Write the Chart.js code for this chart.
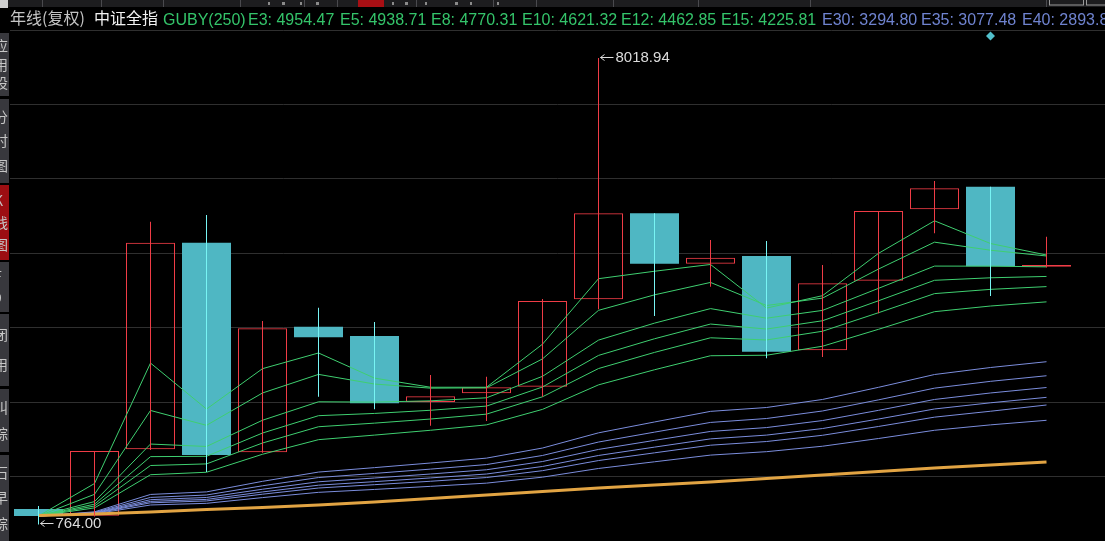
<!DOCTYPE html>
<html><head><meta charset="utf-8">
<script src="https://cdn.jsdelivr.net/npm/chart.js@4.4.0/dist/chart.umd.min.js"></script>
<style>html,body{margin:0;padding:0;background:#000;overflow:hidden}#wrap{position:relative;width:1105px;height:541px}</style>
</head><body><div id="wrap"><canvas id="c"></canvas></div>
<script>
// ---- data (yearly candles, 中证全指 年线 复权) ----
const years = ['2005','2006','2007','2008','2009','2010','2011','2012','2013','2014','2015','2016','2017','2018','2019','2020','2021','2022','2023'];
const openP  = [1005, 900, 1933, 5146, 1886, 3840, 3695, 2669, 2804, 2906, 4266, 5603, 4819, 4939, 3472, 4555, 5665, 6017, 4770];
const highP  = [1051, 1906, 5472, 5576, 3928, 4135, 3912, 3088, 3062, 4270, 8018.94, 5603, 5188, 5172, 4799, 5639, 6105, 6017, 5239];
const lowP   = [764, 890, 1922, 1580, 1880, 2751, 2555, 2300, 2373, 2751, 4110, 4006, 4461, 3348, 3368, 4048, 5292, 4317, 4760];
const closeP = [896, 1906, 5146, 1844, 3815, 3675, 2648, 2757, 2897, 4239, 5603, 4819, 4912, 3451, 4514, 5639, 5992, 4779, 4800];
// GUBY short lines
const e3  = [896,1401,3274,2559,3187,3431,3040,2898,2898,3568,4586,4702,4807,4129,4322,4980,5486,5133,4954];
const e5  = [896,1233,2537,2306,2809,3098,2948,2884,2889,3339,4094,4335,4528,4169,4284,4736,5154,5029,4939];
const e8  = [896,1120,2015,1977,2385,2672,2667,2687,2734,3068,3631,3895,4121,3972,4093,4436,4782,4781,4770];
const e10 = [896,1080,1819,1824,2186,2456,2491,2540,2605,2902,3393,3652,3881,3803,3932,4243,4561,4600,4621];
const e12 = [896,1051,1681,1706,2031,2284,2340,2404,2480,2750,3189,3440,3667,3633,3769,4057,4354,4420,4463];
const e15 = [896,1022,1538,1576,1856,2083,2154,2229,2313,2554,2935,3170,3388,3396,3536,3799,4073,4161,4226];
// GUBY long lines
const e30 = [896,961,1231,1271,1435,1579,1648,1720,1796,1953,2189,2358,2523,2583,2708,2897,3096,3205,3295];
const e35 = [896,952,1185,1222,1366,1494,1558,1625,1696,1837,2046,2200,2351,2412,2529,2702,2884,2990,3077];
const e40 = [896,945,1150,1184,1312,1428,1487,1549,1615,1743,1931,2072,2211,2271,2380,2539,2708,2809,2894];
const e45 = [896,940,1123,1154,1270,1375,1430,1488,1549,1666,1837,1967,2095,2154,2256,2404,2560,2656,2741];
const e50 = [896,936,1101,1130,1235,1331,1383,1436,1494,1601,1758,1878,1997,2054,2151,2288,2433,2525,2622];
const e60 = [896,929,1067,1093,1182,1264,1309,1357,1407,1500,1635,1739,1843,1896,1981,2101,2229,2313,2384];
// long baseline line (orange)
const eLong = [904,927,958,997,1028,1067,1114,1168,1222,1277,1331,1378,1425,1479,1533,1588,1642,1689,1735];
const markerIndex = [17];
const markerValue = [8360];
const headerItems = [
  ['E3: 4954.47','g'],['E5: 4938.71','g'],['E8: 4770.31','g'],['E10: 4621.32','g'],['E12: 4462.85','g'],['E15: 4225.81','g'],
  ['E30: 3294.80','b'],['E35: 3077.48','b'],['E40: 2893.8','b']
];

// ---- styles ----
const RED = '#ef3c46', CYAN = '#4fb7c3', CYAN_WICK = '#78f4f4';
const GREEN = '#3fcf70', BLUE = '#7b8ddc', ORANGE = '#e2a443';
const Y_MAX = 8453.22, Y_MIN = 507.17, GRID_STEP = 1158;
const X_MIN = -0.5 - 0.5/56, X_MAX = X_MIN + 1095/56;

const up = i => closeP[i] >= openP[i];
const pts = arr => arr.map((v,i)=>({x:i,y:v}));
const lineDs = (arr,color,w) => ({type:'line', data:pts(arr), borderColor:color, borderWidth:w||1, pointRadius:0, pointHitRadius:0, tension:0, order:10, fill:false});

const decor = {
  id:'decor',
  beforeDraw(chart){
    const c = chart.ctx;
    c.save();
    c.fillStyle='#000'; c.fillRect(0,0,chart.width,chart.height);
    // top strip
    c.fillStyle='#1d1d1f'; c.fillRect(0,0,1105,7);
    c.fillStyle='#4a4a4e';
    [42,101,163,240,304,337,416,493,536,613,698,810,1046].forEach(x=>c.fillRect(x,0,1,7));
    c.fillStyle='#a80f14'; c.fillRect(358,0,26,7);
    c.fillStyle='#8a8a8a';
    [[268,2],[282,3],[300,2],[316,3],[392,2],[405,3],[425,2],[455,3],[470,2],[497,2]].forEach(([x,w])=>c.fillRect(x,2,w,3));
    c.strokeStyle='#9a9a9a'; c.lineWidth=1; c.strokeRect(1049.5,-1,34,6); c.strokeRect(1086.5,-1,20,6);
    c.fillStyle='#cfcfcf'; c.fillRect(0,0,8,8);
    // left sidebar tabs
    const tabs = [[33,96,'应用设'],[99,183,'分时图'],[185,260,'K线图'],[262,312,'F9'],[314,386,'闭用'],[389,452,'叫综'],[455,541,'石早综']];
    tabs.forEach(([a,b,t],k)=>{
      c.fillStyle = k===2 ? '#9c0e12' : '#38383d';
      c.fillRect(0,a,9,b-a);
      c.save(); c.beginPath(); c.rect(0,a,9,b-a); c.clip();
      c.fillStyle='#c6c6c6'; c.font='14px "Noto Sans CJK SC"'; c.textBaseline='middle';
      const chars=[...t]; const gap=(b-a)/(chars.length+0.4);
      chars.forEach((ch,j)=>c.fillText(ch,-6,a+gap*(j+0.7)));
      c.restore();
    });
    c.restore();
  },
  afterDatasetsDraw(chart){
    const c = chart.ctx, xs=chart.scales.x, ys=chart.scales.y;
    c.save();
    c.strokeStyle='#dcdcdc'; c.fillStyle='#dcdcdc'; c.lineWidth=1;
    c.font='15px "Liberation Sans", Arial, sans-serif'; c.textBaseline='middle';
    const hi = highP.indexOf(Math.max(...highP));
    const lo = lowP.indexOf(Math.min(...lowP));
    const drawMark=(i,v,label,dy)=>{
      const x=Math.round(xs.getPixelForValue(i))+0.5, y=Math.round(ys.getPixelForValue(v))+0.5+dy;
      c.beginPath(); c.moveTo(x+1,y); c.lineTo(x+14,y);
      c.moveTo(x+1,y); c.lineTo(x+5,y-3); c.moveTo(x+1,y); c.lineTo(x+5,y+3); c.stroke();
      c.fillText(label,x+16,y);
    };
    drawMark(hi,highP[hi],highP[hi].toFixed(2),-1);
    drawMark(lo,lowP[lo],lowP[lo].toFixed(2),-1);
    c.restore();
  },
  afterDraw(chart){
    const c = chart.ctx;
    c.save();
    c.textBaseline='alphabetic';
    c.font='16px "Noto Sans CJK SC", sans-serif';
    c.fillStyle='#c4c4c4'; c.fillText('年线(复权)',10,24);
    c.fillStyle='#f2f2f2'; c.fillText('中证全指',94,24);
    c.font='16px "Liberation Sans", Arial, sans-serif';
    c.fillStyle='#34c46a'; c.fillText('GUBY(250)',163,25);
    const xs=[248,340,431,522,621,721,822,921,1022];
    headerItems.forEach(([t,k],i)=>{ c.fillStyle = k==='g' ? '#34c46a' : '#6f83cf'; c.fillText(t,xs[i],25); });
    c.restore();
  }
};

new Chart(document.getElementById('c'), {
  data:{
    datasets:[
      {type:'bar', label:'body', data: years.map((_,i)=>({x:i,y:[openP[i],closeP[i]]})), grouped:false, barThickness:49,
        backgroundColor: ctx=> up(ctx.dataIndex)?'rgba(0,0,0,0)':CYAN,
        borderColor: ctx=> up(ctx.dataIndex)?RED:CYAN,
        borderWidth: ctx=> up(ctx.dataIndex)?1:0, borderSkipped:false, inflateAmount:0, order:20},
      lineDs(eLong,ORANGE,3),
      lineDs(e60,BLUE),lineDs(e50,BLUE),lineDs(e45,BLUE),lineDs(e40,BLUE),lineDs(e35,BLUE),lineDs(e30,BLUE),
      lineDs(e15,GREEN),lineDs(e12,GREEN),lineDs(e10,GREEN),lineDs(e8,GREEN),lineDs(e5,GREEN),lineDs(e3,GREEN),
      {type:'bar', label:'wick', data: years.map((_,i)=>({x:i,y:[lowP[i],highP[i]]})), grouped:false, barThickness:1,
        backgroundColor: ctx=> up(ctx.dataIndex)?RED:CYAN_WICK, borderWidth:0, inflateAmount:0, order:5},
      {type:'line', label:'mark', data: markerIndex.map((x,i)=>({x, y:markerValue[i]})), showLine:false,
        pointStyle:'rectRot', pointRadius:4.5, pointHitRadius:0, pointBackgroundColor:'#52c0cc', pointBorderWidth:0, order:1, clip:false}
    ]
  },
  options:{
    responsive:true, maintainAspectRatio:false, animation:false, devicePixelRatio:1,
    layout:{padding:{left:10,top:30,right:0,bottom:0}, autoPadding:false},
    plugins:{legend:{display:false}, tooltip:{enabled:false}},
    scales:{
      x:{type:'linear', min:X_MIN, max:X_MAX, display:false, offset:false, grid:{offset:false}},
      y:{type:'linear', min:Y_MIN, max:Y_MAX, display:true,
        afterBuildTicks: s => { s.ticks = [0,1,2,3,4,5,6].map(k=>({value: Y_MAX - k*GRID_STEP})); },
        ticks:{display:false}, border:{display:false},
        grid:{color:'#2f2f2f', lineWidth:1, drawTicks:false}}
    }
  },
  plugins:[decor]
});
</script></body></html>
